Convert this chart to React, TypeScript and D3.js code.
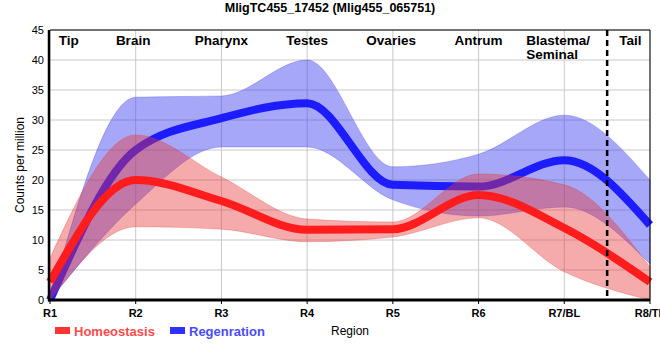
import React from "react";
import * as d3 from "d3";

const regions = ["R1", "R2", "R3", "R4", "R5", "R6", "R7/BL", "R8/TL"];
const yTicks = [0, 5, 10, 15, 20, 25, 30, 35, 40, 45];

const homeoMean = [3, 20, 16.5, 11.7, 11.8, 17.5, 12, 3];
const homeoLow = [0, 12.2, 11.8, 9.7, 10.5, 13.7, 4.7, 0];
const homeoHigh = [7, 27.5, 20.5, 13.5, 13, 21, 19.2, 5.5];

const regenMean = [0, 25, 30.3, 32.8, 19.2, 18.9, 23.3, 12.5];
const regenLow = [0, 16, 25.5, 25.5, 16.7, 14, 15.5, 6];
const regenHigh = [0, 33.8, 34, 40, 22.2, 24.3, 30.8, 20];

const tissueNames = ["Tip", "Brain", "Pharynx", "Testes", "Ovaries", "Antrum", "Blastema/", "Tail"];
const tissuePos = [0.22, 0.97, 2, 3, 3.98, 5, 5.65, 6.77];
const tissueAnchor = ["middle", "middle", "middle", "middle", "middle", "middle", "start", "middle"];
const tissueSecond = { 6: "Seminal" } as Record<number, string>;
const splitAt = 6.5;

const W = 660, H = 360;
const L = 50, R = 650, T = 30, B = 300;

export default function App() {
  const x = d3.scaleLinear().domain([0, regions.length - 1]).range([L, R]);
  const y = d3.scaleLinear().domain([0, 45]).range([B, T]);
  const idx = regions.map((_, i) => i);

  const area = (lo: number[], hi: number[]) =>
    d3.area<number>().x((i) => x(i)).y0((i) => y(lo[i])).y1((i) => y(hi[i])).curve(d3.curveMonotoneX)(idx) || "";
  const line = (v: number[]) =>
    d3.line<number>().x((i) => x(i)).y((i) => y(v[i])).curve(d3.curveMonotoneX)(idx) || "";

  const font = "Liberation Sans, Arial, sans-serif";

  return (
    <svg width={W} height={H} style={{ position: "absolute", left: 0, top: 0 }} fontFamily={font}>
      <rect x={0} y={0} width={W} height={H} fill="#fff" />
      <text x={330} y={12} textAnchor="middle" fontWeight="bold" fontSize={12.5}>
        MligTC455_17452 (Mlig455_065751)
      </text>
      {yTicks.map((t) => (
        <g key={t}>
          <line x1={L} x2={R} y1={y(t)} y2={y(t)} stroke="#c8c8c8" strokeWidth={1} />
          <text x={44} y={y(t) + 4} textAnchor="end" fontSize={11}>{t}</text>
        </g>
      ))}
      {idx.map((i) => (
        <g key={i}>
          <line x1={x(i)} x2={x(i)} y1={T} y2={B} stroke="#c8c8c8" strokeWidth={1} />
          <line x1={x(i)} x2={x(i)} y1={B} y2={B + 4} stroke="#000" strokeWidth={1} />
          <text x={x(i)} y={317} textAnchor="middle" fontWeight="bold" fontSize={11}>{regions[i]}</text>
        </g>
      ))}
      <path d={area(regenLow, regenHigh)} fill="rgb(60,60,240)" fillOpacity={0.45} stroke="rgb(60,60,240)" strokeOpacity={0.3} strokeWidth={1} />
      <path d={line(regenMean)} fill="none" stroke="#1c1cff" strokeWidth={8} />
      <path d={area(homeoLow, homeoHigh)} fill="rgb(230,55,55)" fillOpacity={0.42} stroke="rgb(230,55,55)" strokeOpacity={0.3} strokeWidth={1} />
      <path d={line(homeoMean)} fill="none" stroke="#ff1c1c" strokeWidth={8} />
      <line x1={x(splitAt)} x2={x(splitAt)} y1={T} y2={B} stroke="#000" strokeWidth={2.5} strokeDasharray="6,4" />
      <line x1={L} x2={R} y1={T} y2={T} stroke="#000" strokeWidth={1} />
      <line x1={R} x2={R} y1={T} y2={B} stroke="#000" strokeWidth={1} />
      <line x1={L - 1} x2={L - 1} y1={T} y2={B + 1.5} stroke="#000" strokeWidth={2.5} />
      <line x1={L - 2} x2={R} y1={B} y2={B} stroke="#000" strokeWidth={3} />
      {tissueNames.map((n, i) => (
        <g key={n}>
          <text x={tissueAnchor[i] === "start" ? x(tissuePos[i]) - 8 : x(tissuePos[i])} y={45} textAnchor={tissueAnchor[i]} fontWeight="bold" fontSize={13.5}>{n}</text>
          {tissueSecond[i] && (
            <text x={x(tissuePos[i]) - 8} y={59} textAnchor="start" fontWeight="bold" fontSize={13.5}>{tissueSecond[i]}</text>
          )}
        </g>
      ))}
      <text transform={`translate(24,${(T + B) / 2}) rotate(-90)`} textAnchor="middle" fontSize={12}>Counts per million</text>
      <text x={350} y={335} textAnchor="middle" fontSize={12}>Region</text>
      <rect x={55} y={327} width={15} height={7} fill="#ff3535" />
      <text x={74} y={336} fontSize={13} fontWeight="bold" fill="#ff4a4a">Homeostasis</text>
      <rect x={170} y={327} width={15} height={7} fill="#3030ff" />
      <text x={189} y={336} fontSize={13} fontWeight="bold" fill="#4a4aff">Regenration</text>
    </svg>
  );
}
